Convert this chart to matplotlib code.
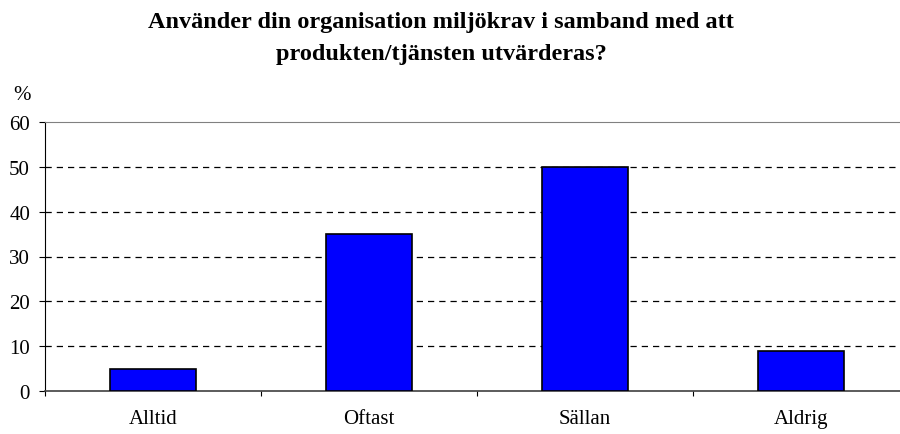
import numpy as np
import matplotlib.pyplot as plt

categories = ['Alltid', 'Oftast', 'Sällan', 'Aldrig']
values = [5, 35, 50, 9]
yticks = [0, 10, 20, 30, 40, 50, 60]
title_lines = ['Använder din organisation miljökrav i samband med att',
               'produkten/tjänsten utvärderas?']

plt.rcParams['font.family'] = ['Liberation Serif', 'DejaVu Serif']

fig = plt.figure(figsize=(9, 4.35), dpi=100)
ax = fig.add_axes([45 / 900, 1 - 392 / 435, 864 / 900, 269 / 435])

x = np.arange(len(categories))
ax.bar(x, values, width=0.4, color='#0000ff', edgecolor='black', linewidth=1.2, zorder=3)

ax.set_xlim(-0.5, len(categories) - 0.5)
ax.set_ylim(0, 60)
ax.set_yticks(yticks)
ax.set_yticklabels([str(t) for t in yticks], fontsize=15)

# kategoriavgränsande tickar under x-axeln
ax.set_xticks(np.arange(-0.5, len(categories), 1.0))
ax.set_xticklabels([])
ax.set_xticks(x, minor=True)
ax.set_xticklabels(categories, minor=True, fontsize=15)
ax.tick_params(axis='x', which='minor', length=0, pad=13)
ax.tick_params(axis='x', which='major', length=3.6, direction='out', color='black')
ax.tick_params(axis='y', length=4.3, direction='out', pad=6.5)

for t in yticks[1:-1]:
    ax.axhline(t, color='black', linestyle=(0, (5, 4)), linewidth=0.9, zorder=1)

ax.spines['top'].set_color('#808080')
ax.spines['right'].set_visible(False)
ax.spines['left'].set_color('black')
ax.spines['bottom'].set_color('#404040')
ax.spines['bottom'].set_linewidth(1.2)

fig.text(441 / 900, 1 - 28 / 435, title_lines[0],
         ha='center', va='baseline', fontsize=17.5, fontweight='bold')
fig.text(441 / 900, 1 - 60 / 435, title_lines[1],
         ha='center', va='baseline', fontsize=17.5, fontweight='bold')
fig.text(22 / 900, 1 - 95 / 435, '%', ha='center', va='center', fontsize=15)

fig.savefig('out.png', dpi=100)
